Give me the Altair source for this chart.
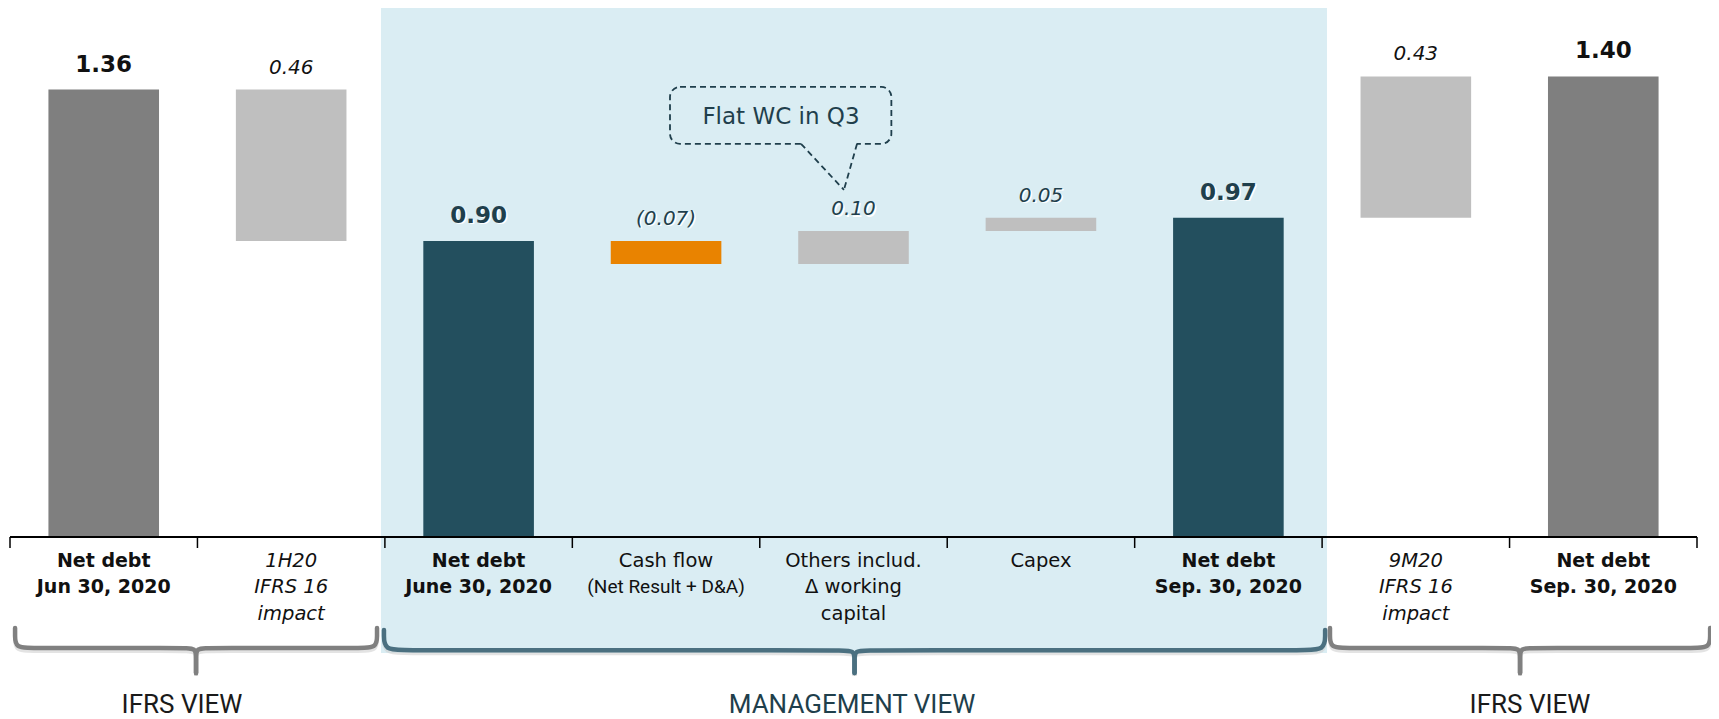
import altair as alt
import pandas as pd

# ---------------- data ----------------
categories = ["Net debt Jun 30, 2020", "1H20 IFRS 16 impact", "Net debt June 30, 2020",
              "Cash flow", "Others includ. working capital", "Capex",
              "Net debt Sep. 30, 2020 (mgmt)", "9M20 IFRS 16 impact", "Net debt Sep. 30, 2020"]
bar_start = [0.00, 0.90, 0.00, 0.83, 0.83, 0.93, 0.00, 0.97, 0.00]
bar_end = [1.36, 1.36, 0.90, 0.90, 0.93, 0.97, 0.97, 1.40, 1.40]
value_labels = ["1.36", "0.46", "0.90", "(0.07)", "0.10", "0.05", "0.97", "0.43", "1.40"]
bar_kind = ["total_ifrs", "ifrs16", "total_mgmt", "negative", "positive", "positive",
            "total_mgmt", "ifrs16", "total_ifrs"]
view_group = ["ifrs", "ifrs", "mgmt", "mgmt", "mgmt", "mgmt", "mgmt", "ifrs", "ifrs"]
tick_lines = [["Net debt", "Jun 30, 2020"],
              ["1H20", "IFRS 16", "impact"],
              ["Net debt", "June 30, 2020"],
              ["Cash flow", "(Net Result + D&A)"],
              ["Others includ.", "\u0394 working", "capital"],
              ["Capex"],
              ["Net debt", "Sep. 30, 2020"],
              ["9M20", "IFRS 16", "impact"],
              ["Net debt", "Sep. 30, 2020"]]
view_titles = ["IFRS VIEW", "MANAGEMENT VIEW", "IFRS VIEW"]
callout_text = "Flat WC in Q3"

# ---------------- layout constants ----------------
W, H = 1703, 711
XD = [-0.5107, 8.5747]
YD = [-0.5532, 1.6079]
PXU = 329.0          # pixels per value unit
BAR_HALF = 0.295

BG = "#daedf3"
TEAL_TXT = "#1f3f4c"
DARK = "#111111"
GRAY_BR = "#808080"
TEAL_BR = "#4b7080"
SANS = "DejaVu Sans"
NARROW = "Roboto"

xs = alt.Scale(domain=XD, nice=False, zero=False)
ys = alt.Scale(domain=YD, nice=False, zero=False)


def X(f):
    return alt.X(f, type="quantitative", scale=xs, axis=None)


def Y(f):
    return alt.Y(f, type="quantitative", scale=ys, axis=None)


n = len(categories)
bars = pd.DataFrame({
    "cat": categories,
    "idx": list(range(n)),
    "start": bar_start,
    "end": bar_end,
    "label": value_labels,
    "kind": bar_kind,
    "grp": view_group,
})
bars["x0"] = bars["idx"] - BAR_HALF
bars["x1"] = bars["idx"] + BAR_HALF
bars["bold"] = bars["kind"].str.startswith("total")

# background for management view
bg_df = pd.DataFrame({"x0": [1.479], "x1": [6.526], "y0": [-0.3526], "y1": [YD[1]]})
background = alt.Chart(bg_df).mark_rect(color=BG).encode(
    x=X("x0"), x2="x1", y=Y("y0"), y2="y1")

# bars
color_scale = alt.Scale(domain=["total_ifrs", "ifrs16", "total_mgmt", "negative", "positive"],
                        range=["#7f7f7f", "#bfbfbf", "#234f5e", "#e98300", "#bfbfbf"])
bar_layer = alt.Chart(bars).mark_rect().encode(
    x=X("x0"), x2="x1", y=Y("start"), y2="end",
    color=alt.Color("kind:N", scale=color_scale, legend=None))

# axis line and ticks
axis_df = pd.DataFrame({"x0": [-0.5], "x1": [8.5], "y": [0.0]})
axis_line = alt.Chart(axis_df).mark_rule(color="#000000", strokeWidth=2).encode(
    x=X("x0"), x2="x1", y=Y("y"))
ticks_df = pd.DataFrame({"x": [i - 0.5 for i in range(n + 1)]})
ticks_df["y0"] = 0.0
ticks_df["y1"] = -11 / PXU
ticks = alt.Chart(ticks_df).mark_rule(color="#000000", strokeWidth=1.5).encode(
    x=X("x"), y=Y("y0"), y2="y1")

# value labels
txt_color = alt.condition("datum.grp == 'mgmt'", alt.value(TEAL_TXT), alt.value(DARK))
bold_lbl = alt.Chart(bars).transform_filter("datum.bold").mark_text(
    font=SANS, fontSize=23, fontWeight="bold", baseline="middle", dy=-25).encode(
    x=X("idx"), y=Y("end"), text="label:N", color=txt_color)
bold_shadow = alt.Chart(bars).transform_filter("datum.bold && datum.grp == 'mgmt'").mark_text(
    font=SANS, fontSize=23, fontWeight="bold", baseline="middle", dy=-23.5, dx=1.5,
    color="#ffffff").encode(x=X("idx"), y=Y("end"), text="label:N")
ital_lbl = alt.Chart(bars).transform_filter("!datum.bold").mark_text(
    font=SANS, fontSize=20, fontStyle="italic", baseline="middle", dy=-22).encode(
    x=X("idx"), y=Y("end"), text="label:N", color=txt_color)
ital_shadow = alt.Chart(bars).transform_filter("!datum.bold && datum.grp == 'mgmt'").mark_text(
    font=SANS, fontSize=20, fontStyle="italic", baseline="middle", dy=-20.5, dx=1.5,
    color="#ffffff").encode(x=X("idx"), y=Y("end"), text="label:N")

# category (tick) labels, one row per line
rows = []
for i, lines in enumerate(tick_lines):
    for j, t in enumerate(lines):
        rows.append({"idx": i, "text": t, "y": -(24 + 26.5 * j) / PXU,
                     "italic": bar_kind[i] == "ifrs16",
                     "total": bar_kind[i].startswith("total"),
                     "small": t.startswith("(")})
lines_df = pd.DataFrame(rows)
cat_bold = alt.Chart(lines_df).transform_filter("datum.total").mark_text(
    font=SANS, fontSize=19, fontWeight="bold", baseline="middle", color="#111111").encode(
    x=X("idx"), y=Y("y"), text="text:N")
cat_norm = alt.Chart(lines_df).transform_filter(
    "!datum.italic && !datum.small && !datum.total").mark_text(
    font=SANS, fontSize=19.5, baseline="middle", color="#111111").encode(
    x=X("idx"), y=Y("y"), text="text:N")
cat_ital = alt.Chart(lines_df).transform_filter("datum.italic").mark_text(
    font=SANS, fontSize=19.5, fontStyle="italic", baseline="middle", color="#111111").encode(
    x=X("idx"), y=Y("y"), text="text:N")
cat_small = alt.Chart(lines_df).transform_filter("datum.small").mark_text(
    font=NARROW, fontSize=19, baseline="middle", color="#111111").encode(
    x=X("idx"), y=Y("y"), text="text:N")

# curly brackets
def bracket_rows(name, xl, xr, top, hy, tip, rx=0.1, ry=0.04):
    xc = (xl + xr) / 2
    out = []
    for side, xe, sgn in (("L", xl, 1), ("R", xr, -1)):
        pts = [(xe, top), (xe, hy + ry), (xe, hy), (xe + sgn * rx, hy),
               (xc - sgn * 0.07, hy), (xc, hy), (xc, hy - 0.03), (xc, tip)]
        for k, (px, py) in enumerate(pts):
            out.append({"seg": name + side, "ord": k, "x": px, "y": py})
    return out

br_gray = pd.DataFrame(
    bracket_rows("a", -0.473, 1.458, -0.2766, -0.3374, -0.4134)
    + bracket_rows("c", 6.542, 8.570, -0.2766, -0.3374, -0.4134))
br_teal = pd.DataFrame(bracket_rows("b", 1.495, 6.516, -0.283, -0.3445, -0.4134, rx=0.12, ry=0.05))

def bracket_layer(df, color):
    shadow = df.copy()
    shadow["y"] = shadow["y"] - 3 / PXU
    sh = alt.Chart(shadow).mark_line(interpolate="basis", strokeWidth=4, color="#d0d0d0",
                                     opacity=0.6).encode(
        x=X("x"), y=Y("y"), detail="seg:N", order="ord:Q")
    ln = alt.Chart(df).mark_line(interpolate="basis", strokeWidth=4.5, color=color,
                                 strokeCap="round").encode(
        x=X("x"), y=Y("y"), detail="seg:N", order="ord:Q")
    return sh + ln

# view titles
vt_df = pd.DataFrame({"text": view_titles, "x": [0.4176, 3.992, 7.609], "y": [-0.5106] * 3,
                      "grp": ["ifrs", "mgmt", "ifrs"]})
view_txt = alt.Chart(vt_df).mark_text(font=NARROW, fontSize=26,
                                      baseline="middle").encode(
    x=X("x"), y=Y("y"), text="text:N",
    color=alt.condition("datum.grp == 'mgmt'", alt.value(TEAL_TXT), alt.value("#1a1a1a")))

# callout
box_df = pd.DataFrame({"x0": [3.021], "x1": [4.202], "y0": [1.195], "y1": [1.368]})
box = alt.Chart(box_df).mark_rect(cornerRadius=10, fill="#ffffff", fillOpacity=0,
                                  stroke=TEAL_TXT, strokeWidth=1.8, strokeDash=[6, 4]).encode(
    x=X("x0"), x2="x1", y=Y("y0"), y2="y1")
gap_df = pd.DataFrame({"x0": [3.722], "x1": [4.017], "y": [1.195]})
gap = alt.Chart(gap_df).mark_rule(color=BG, strokeWidth=4).encode(x=X("x0"), x2="x1", y=Y("y"))
tail_df = pd.DataFrame({"seg": ["l", "l", "r", "r"], "ord": [0, 1, 0, 1],
                        "x": [3.720, 3.949, 4.019, 3.949], "y": [1.195, 1.055, 1.195, 1.055]})
tail = alt.Chart(tail_df).mark_line(color=TEAL_TXT, strokeWidth=1.8, strokeDash=[6, 4]).encode(
    x=X("x"), y=Y("y"), detail="seg:N", order="ord:Q")
co_df = pd.DataFrame({"text": [callout_text], "x": [3.613], "y": [1.2766]})
co_txt = alt.Chart(co_df).mark_text(font=SANS, fontSize=23, baseline="middle",
                                    color=TEAL_TXT).encode(x=X("x"), y=Y("y"), text="text:N")

chart = alt.layer(
    background, bar_layer, axis_line, ticks,
    bold_shadow, bold_lbl, ital_shadow, ital_lbl,
    cat_bold, cat_norm, cat_ital, cat_small,
    bracket_layer(br_gray, GRAY_BR), bracket_layer(br_teal, TEAL_BR),
    view_txt, box, gap, tail, co_txt,
).properties(
    width=W, height=H, padding=0, autosize=alt.AutoSizeParams(type="none"),
    background="#ffffff",
).configure_view(stroke=None)

chart.save("out.html", embed_options={"renderer": "svg", "actions": False})
